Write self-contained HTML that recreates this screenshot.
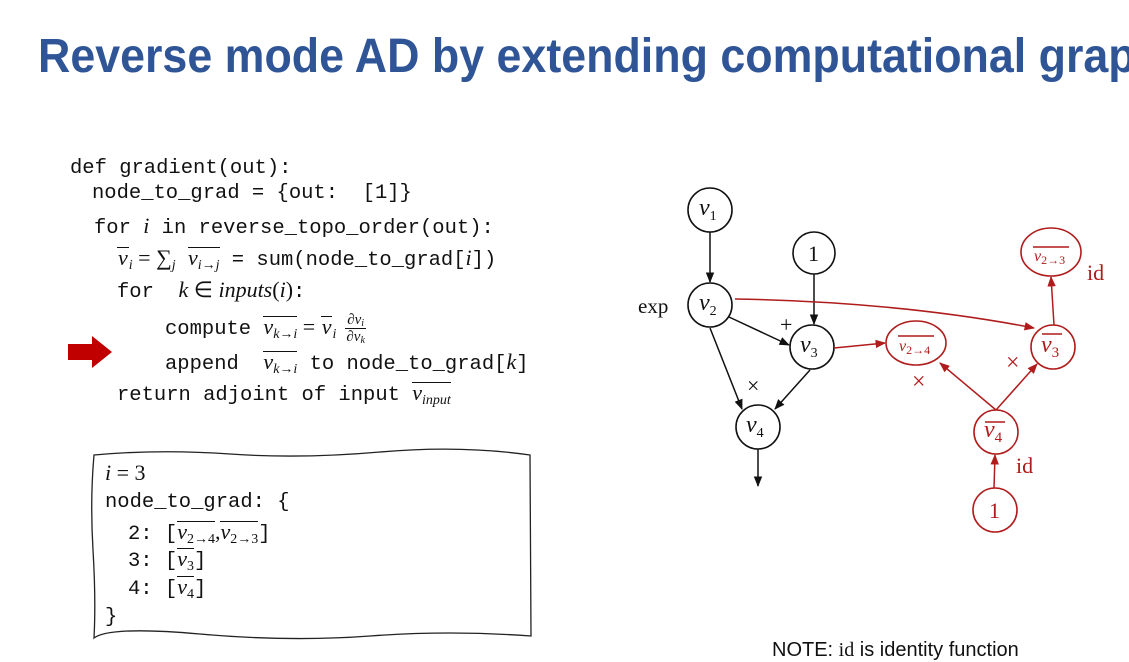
<!DOCTYPE html>
<html><head><meta charset="utf-8"><style>
html,body{margin:0;padding:0;background:#fff;}
svg{display:block;position:absolute;left:0;top:0}
.L{position:absolute;white-space:pre;font-family:"Liberation Mono",monospace;font-size:20.5px;line-height:24px;color:#111}
i,.mi{font-family:"Liberation Serif",serif;font-style:italic;font-size:22px}
.r{font-family:"Liberation Serif",serif;font-style:normal;font-size:22px}
sub{font-size:14px;vertical-align:-4px;line-height:0}
.ov{display:inline-block;border-top:1.3px solid #111;line-height:20px;padding-top:0px}
.fr{display:inline-flex;flex-direction:column;align-items:center;vertical-align:middle;font-family:"Liberation Serif",serif;font-style:italic;font-size:15px;line-height:16px;margin-left:8px}
.fr span{padding:0 2px}
.fr span:first-child{border-bottom:1px solid #111}
.fr sub{font-size:10px;vertical-align:-2px}
</style></head><body>
<svg width="1129" height="662" viewBox="0 0 1129 662" xmlns="http://www.w3.org/2000/svg">
<defs>
<marker id="ab" viewBox="0 0 10 10" refX="9" refY="5" markerWidth="7" markerHeight="7" orient="auto"><path d="M0,1 L10,5 L0,9 z" fill="#111"/></marker>
<marker id="ar" viewBox="0 0 10 10" refX="9" refY="5" markerWidth="7" markerHeight="7" orient="auto"><path d="M0,1 L10,5 L0,9 z" fill="#b01c1c"/></marker>
</defs>
<text x="38" y="72" textLength="1125" lengthAdjust="spacingAndGlyphs" font-family="Liberation Sans, sans-serif" font-weight="bold" font-size="48" fill="#2f5597">Reverse mode AD by extending computational graph</text>

<path d="M68,344 L92,344 L92,336 L112,352 L92,368 L92,360 L68,360 z" fill="#c00000"/>

<path d="M94,455 Q160,449 230,454 T380,452 T530,455 L531,636 Q450,630 370,636 T200,634 T94,638 Q96,600 93,550 T94,455 z" fill="none" stroke="#222" stroke-width="1.3"/>

<g fill="#fff" stroke="#111" stroke-width="1.6">
<circle cx="710" cy="210" r="22"/><circle cx="814" cy="253" r="21"/>
<circle cx="710" cy="305" r="22"/><circle cx="812" cy="347" r="22"/>
<circle cx="758" cy="427" r="22"/>
</g>
<g stroke="#111" stroke-width="1.5" fill="none">
<line x1="710" y1="232" x2="710" y2="282" marker-end="url(#ab)"/>
<line x1="814" y1="274" x2="814" y2="324" marker-end="url(#ab)"/>
<line x1="729" y1="317" x2="789" y2="345" marker-end="url(#ab)"/>
<line x1="710" y1="328" x2="742" y2="409" marker-end="url(#ab)"/>
<line x1="810" y1="370" x2="775" y2="409" marker-end="url(#ab)"/>
<line x1="758" y1="449" x2="758" y2="486" marker-end="url(#ab)"/>
</g>
<g font-family="Liberation Serif, serif" fill="#111">
<text font-style="italic" font-size="24" x="699" y="215">v<tspan font-size="14" font-style="normal" dy="5">1</tspan></text>
<text font-size="22" x="808" y="261">1</text>
<text font-style="italic" font-size="24" x="699" y="310">v<tspan font-size="14" font-style="normal" dy="5">2</tspan></text>
<text font-style="italic" font-size="24" x="800" y="352">v<tspan font-size="14" font-style="normal" dy="5">3</tspan></text>
<text font-style="italic" font-size="24" x="746" y="432">v<tspan font-size="14" font-style="normal" dy="5">4</tspan></text>
<text font-size="21" x="638" y="313">exp</text>
<text font-size="22" x="780" y="332">+</text>
<text font-size="22" x="747" y="393">×</text>
</g>

<g fill="#fff" stroke="#b01c1c" stroke-width="1.6">
<ellipse cx="916" cy="343" rx="30" ry="22"/>
<ellipse cx="1051" cy="252" rx="30" ry="24"/>
<circle cx="1053" cy="347" r="22"/>
<circle cx="996" cy="432" r="22"/>
<circle cx="995" cy="510" r="22"/>
</g>
<g stroke="#b01c1c" stroke-width="1.5" fill="none">
<path d="M735,299 Q900,302 1034,328" marker-end="url(#ar)"/>
<line x1="834" y1="348" x2="885" y2="343" marker-end="url(#ar)"/>
<line x1="996" y1="410" x2="940" y2="363" marker-end="url(#ar)"/>
<line x1="996" y1="410" x2="1037" y2="364" marker-end="url(#ar)"/>
<line x1="1054" y1="325" x2="1051" y2="277" marker-end="url(#ar)"/>
<line x1="994" y1="488" x2="995" y2="455" marker-end="url(#ar)"/>
<line x1="898" y1="336" x2="934" y2="336"/>
<line x1="1033" y1="247" x2="1069" y2="247"/>
<line x1="1042" y1="334" x2="1062" y2="334"/>
<line x1="985" y1="422" x2="1005" y2="422"/>
</g>
<g fill="#b01c1c" font-family="Liberation Serif, serif">
<text x="899" y="351" font-size="16" font-style="italic">v<tspan font-size="12" font-style="normal" dy="3">2→4</tspan></text>
<text x="1034" y="261" font-size="16" font-style="italic">v<tspan font-size="12" font-style="normal" dy="3">2→3</tspan></text>
<text x="1041" y="352" font-size="24" font-style="italic">v<tspan font-size="15" font-style="normal" dy="5">3</tspan></text>
<text x="984" y="437" font-size="24" font-style="italic">v<tspan font-size="15" font-style="normal" dy="5">4</tspan></text>
<text x="989" y="518" font-size="22">1</text>
<text x="1087" y="280" font-size="22">id</text>
<text x="1016" y="473" font-size="22">id</text>
<text x="912" y="389" font-size="24">×</text>
<text x="1006" y="370" font-size="24">×</text>
</g>
<text x="772" y="656" font-family="Liberation Sans, sans-serif" font-size="20" fill="#111">NOTE: <tspan font-family="Liberation Serif, serif">id</tspan> is identity function</text>
</svg>

<div class="L" style="left:70px;top:157px">def gradient(out):</div>
<div class="L" style="left:92px;top:182px">node_to_grad = {out:  [1]}</div>
<div class="L" style="left:94px;top:214px">for <i>i</i> in reverse_topo_order(out):</div>
<div class="L" style="left:117px;top:246px"><span class="ov" style="border-top-width:1.2px;padding:0 1px"><i>v</i></span><sub class="mi" style="font-size:14px">i</sub><span class="r"> = ∑</span><sub class="mi" style="font-size:14px">j</sub> <span class="ov"><i>v</i><sub class="mi" style="font-size:14px">i→j</sub></span> = sum(node_to_grad[<i>i</i>])</div>
<div class="L" style="left:117px;top:278px">for  <i>k</i><span class="r"> ∈ </span><i>inputs</i><span class="r">(</span><i>i</i><span class="r">)</span>:</div>
<div class="L" style="left:165px;top:312px">compute <span class="ov"><i>v</i><sub class="mi" style="font-size:14px">k→i</sub></span><span class="r"> = </span><span class="ov" style="padding:0 1px"><i>v</i></span><sub class="mi" style="font-size:14px">i</sub><span class="fr"><span>∂v<sub>i</sub></span><span>∂v<sub>k</sub></span></span></div>
<div class="L" style="left:165px;top:350px">append  <span class="ov"><i>v</i><sub class="mi" style="font-size:14px">k→i</sub></span> to node_to_grad[<i>k</i>]</div>
<div class="L" style="left:117px;top:382px">return adjoint of input <span class="ov"><i>v</i><sub class="mi" style="font-size:14px">input</sub></span></div>

<div class="L" style="left:105px;top:461px"><i>i</i><span class="r"> = 3</span></div>
<div class="L" style="left:105px;top:491px">node_to_grad: {</div>
<div class="L" style="left:128px;top:520px">2: [<span class="ov"><i>v</i><sub class="r" style="font-size:14px">2→4</sub></span><span class="r">,</span><span class="ov"><i>v</i><sub class="r" style="font-size:14px">2→3</sub></span>]</div>
<div class="L" style="left:128px;top:548px">3: [<span class="ov"><i>v</i><sub class="r" style="font-size:14px">3</sub></span>]</div>
<div class="L" style="left:128px;top:576px">4: [<span class="ov"><i>v</i><sub class="r" style="font-size:14px">4</sub></span>]</div>
<div class="L" style="left:105px;top:606px">}</div>
</body></html>
